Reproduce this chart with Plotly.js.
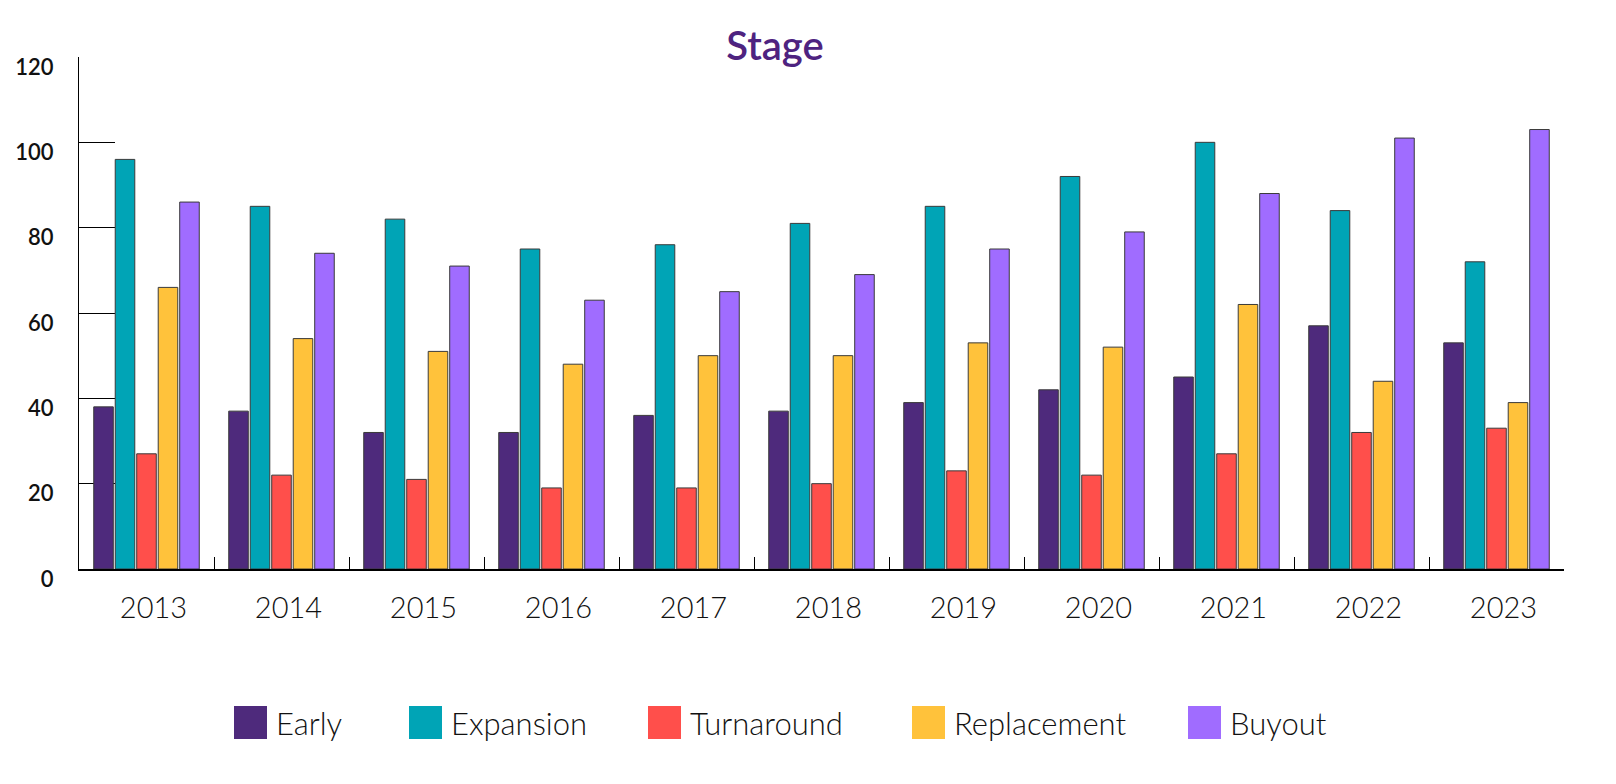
<!DOCTYPE html>
<html>
<head>
<meta charset="utf-8">
<script src="https://cdn.plot.ly/plotly-3.0.1.min.js"></script>
<style>
  html, body { margin: 0; padding: 0; background: #ffffff; }
  #chart { width: 1616px; height: 784px; }
</style>
</head>
<body>
<div id="chart"></div>
<script>
// ---- Data ----
var years = ['2013', '2014', '2015', '2016', '2017', '2018', '2019', '2020', '2021', '2022', '2023'];
var seriesNames = ['Early', 'Expansion', 'Turnaround', 'Replacement', 'Buyout'];
var early       = [38, 37, 32, 32, 36, 37, 39, 42, 45, 57, 53];
var expansion   = [96, 85, 82, 75, 76, 81, 85, 92, 100, 84, 72];
var turnaround  = [27, 22, 21, 19, 19, 20, 23, 22, 27, 32, 33];
var replacement = [66, 54, 51, 48, 50, 50, 53, 52, 62, 44, 39];
var buyout      = [86, 74, 71, 63, 65, 69, 75, 79, 88, 101, 103];
var yTickVals   = [0, 20, 40, 60, 80, 100, 120];

// ---- Styles ----
var colors = ['#4E2A7C', '#00A4B6', '#FF4F4B', '#FFC23B', '#A06CFF'];
var seriesValues = [early, expansion, turnaround, replacement, buyout];

var W = 1616, H = 784;
var M = { l: 79, r: 52, t: 57, b: 215 };
var plotW = W - M.l - M.r, plotH = H - M.t - M.b;
function px2x(px) { return (px - M.l) / plotW; }
function py2y(py) { return (H - M.b - py) / plotH; }

var traces = seriesNames.map(function (name, i) {
  return {
    type: 'bar',
    name: name,
    x: years,
    y: seriesValues[i],
    marker: { color: colors[i], line: { color: '#3a3a3a', width: 1 } },
    hoverinfo: 'x+y+name',
    showlegend: false
  };
});

// Custom legend (large squares) built from names and colours
var legendSquareX = [234, 409, 648, 912, 1188];
var sq = 33, legTop = 706;
var shapes = [], annotations = [];
seriesNames.forEach(function (name, i) {
  shapes.push({
    type: 'rect', xref: 'paper', yref: 'paper',
    x0: px2x(legendSquareX[i]), x1: px2x(legendSquareX[i] + sq),
    y0: py2y(legTop + sq), y1: py2y(legTop),
    fillcolor: colors[i], line: { width: 0 }
  });
  annotations.push({
    xref: 'paper', yref: 'paper',
    x: px2x(legendSquareX[i] + sq + 7), y: py2y(legTop + sq / 2),
    xanchor: 'left', yanchor: 'middle', showarrow: false,
    text: name,
    font: { family: 'Lato, "Noto Sans", sans-serif', size: 31, color: '#111111', weight: 300 }
  });
});

var layout = {
  width: W, height: H,
  margin: M,
  paper_bgcolor: '#ffffff',
  plot_bgcolor: '#ffffff',
  barmode: 'group',
  bargap: 0.204,
  bargroupgap: 0.09,
  showlegend: false,
  title: {
    text: 'Stage',
    x: 775 / W, xref: 'container', xanchor: 'center',
    y: 1 - 45.5 / H, yref: 'container', yanchor: 'middle',
    font: { family: 'Lato, "Noto Sans", sans-serif', size: 40, color: '#4E2380', weight: 600 }
  },
  xaxis: {
    type: 'category',
    tickson: 'boundaries',
    ticks: 'inside', ticklen: 12, tickwidth: 1, tickcolor: '#000000',
    showline: true, linecolor: '#000000', linewidth: 1.5,
    showgrid: false, zeroline: false,
    tickfont: { family: 'Lato, "Noto Sans", sans-serif', size: 29, color: '#111111', weight: 300 },
    ticklabelshift: 7,
    ticklabelstandoff: 12,
    layer: 'below traces'
  },
  yaxis: {
    range: [0, 120],
    tickvals: yTickVals,
    ticktext: yTickVals.map(String),
    ticks: 'inside', ticklen: 36, tickwidth: 1, tickcolor: '#000000',
    showline: true, linecolor: '#000000', linewidth: 1,
    showgrid: false, zeroline: false,
    tickfont: { family: 'Lato, "Noto Sans", sans-serif', size: 22, color: '#111111', weight: 600 },
    ticklabelshift: 10,
    ticklabelstandoff: 20,
    layer: 'below traces'
  },
  shapes: shapes,
  annotations: annotations
};

Plotly.newPlot('chart', traces, layout, { displayModeBar: false, responsive: false });
</script>
</body>
</html>
